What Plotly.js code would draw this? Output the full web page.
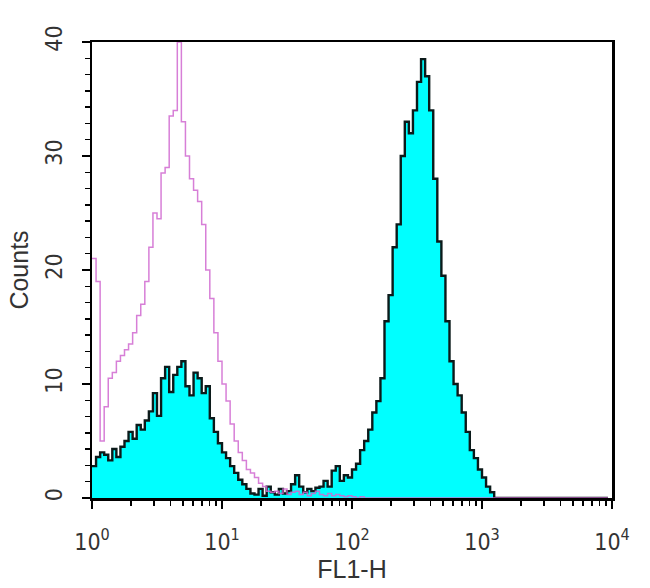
<!DOCTYPE html>
<html>
<head>
<meta charset="utf-8">
<script src="https://cdn.plot.ly/plotly-3.0.1.min.js"></script>
<style>html,body{margin:0;padding:0;background:#fff;}#chart{width:650px;height:588px;}</style>
</head>
<body>
<div id="chart"></div>
<script>
// 128 log-channels spanning 4 decades (10^0 .. 10^4) of FL1-H
const channelsPerDecade = 32;
const channelCount = 128;

// Isotype control histogram (magenta outline), counts per channel
const controlCounts = [
  21, 19, 5, 8, 10.5, 11, 12, 12.5, 13, 13.5,
  14.5, 16, 17, 19, 22, 25, 24.5, 28.5, 29, 33.5,
  34, 40, 33, 30, 28, 27, 26, 24, 20, 17.5,
  14.5, 12, 10, 8.5, 6.5, 5, 4, 3.3, 2.5, 2.2,
  1.8, 1.3, 1.0, 0.6, 0.5, 0.6, 0.4, 0.8, 0.3, 0.5,
  0.6, 0.3, 0.5, 0.2, 0.4, 0.6, 0.3, 0.2, 0.4, 0.2,
  0.3, 0.2, 0.1, 0.2, 0.1, 0, 0.1, 0, 0, 0,
  0, 0, 0, 0, 0, 0, 0, 0, 0, 0,
  0, 0, 0, 0, 0, 0, 0, 0, 0, 0,
  0, 0, 0, 0, 0, 0, 0, 0, 0, 0,
  0, 0, 0, 0, 0, 0, 0, 0, 0, 0,
  0, 0, 0, 0, 0, 0, 0, 0, 0, 0,
  0, 0, 0, 0, 0, 0, 0, 0
];

// Stained sample histogram (cyan filled, black outline), counts per channel
const sampleCounts = [
  2.8, 3.6, 4.0, 3.8, 3.3, 4.3, 3.6, 4.5, 5.0, 5.8,
  5.2, 6.4, 6.0, 6.8, 7.6, 9.2, 7.2, 10.5, 11.5, 9.3,
  10.8, 11.5, 12.0, 9.8, 9.0, 11.0, 10.5, 9.2, 9.8, 7.0,
  5.8, 4.8, 4.0, 3.5, 2.8, 2.2, 1.6, 1.2, 0.8, 0.4,
  0.3, 0.8, 0.2, 1.0, 0.5, 0.3, 0.8, 0.4, 0.6, 1.2,
  2.0, 1.0, 0.5, 0.8, 0.6, 0.9, 1.0, 1.5, 1.0, 2.4,
  2.8, 1.5, 2.0, 1.8, 2.5, 3.0, 4.2, 5.0, 6.0, 7.5,
  8.5, 10.5, 15.5, 17.8, 22, 24, 30, 33, 32, 34,
  36.5, 38.5, 37, 34, 28, 22.5, 19.5, 15.5, 12, 10,
  9, 7.5, 5.8, 4.2, 3.5, 2.5, 1.8, 1.0, 0.5, 0,
  0, 0, 0, 0, 0, 0, 0, 0, 0, 0,
  0, 0, 0, 0, 0, 0, 0, 0, 0, 0,
  0, 0, 0, 0, 0, 0, 0, 0
];

const xTickVals = [1, 10, 100, 1000, 10000];
const xTickText = ['10<sup>0</sup>', '10<sup>1</sup>', '10<sup>2</sup>', '10<sup>3</sup>', '10<sup>4</sup>'];
const yTickVals = [0, 10, 20, 30, 40];
const yTickText = ['0', '10', '20', '30', '40'];
const minorMultipliers = [2, 3, 4, 5, 6, 7, 8, 9];

// channel left edges on the FL1-H scale
const channelEdges = [];
for (let i = 0; i < channelCount; i++) channelEdges.push(Math.pow(10, i / channelsPerDecade));

const xMinor = [];
[1, 10, 100, 1000].forEach(d => minorMultipliers.forEach(m => xMinor.push(d * m)));

const tickFont = {family: 'Liberation Sans Narrow, DejaVu Sans Condensed, Liberation Sans, Arial, sans-serif', size: 23, color: '#333333'};
const titleFont = {family: 'Liberation Sans, Arial, sans-serif', size: 25, color: '#333333'};

const traces = [
  {
    x: channelEdges, y: sampleCounts, type: 'scatter', mode: 'lines',
    line: {shape: 'hv', color: '#0b1a1a', width: 2.4},
    fill: 'tozeroy', fillcolor: '#00ffff', hoverinfo: 'x+y', name: 'Sample'
  },
  {
    x: channelEdges, y: controlCounts, type: 'scatter', mode: 'lines',
    line: {shape: 'hv', color: 'rgba(208,104,208,0.85)', width: 1.5},
    hoverinfo: 'x+y', name: 'Control'
  }
];

const layout = {
  width: 650, height: 588,
  margin: {l: 92, r: 38, t: 42, b: 90},
  paper_bgcolor: '#ffffff', plot_bgcolor: '#ffffff',
  showlegend: false,
  xaxis: {
    type: 'log', range: [0, 4],
    tickmode: 'array', tickvals: xTickVals, ticktext: xTickText,
    ticks: 'outside', ticklen: 8, tickwidth: 2, tickcolor: '#000',
    showline: true, linecolor: '#000', linewidth: 2.5, mirror: true,
    showgrid: false, zeroline: false,
    minor: {tickmode: 'array', tickvals: xMinor, ticks: 'outside', ticklen: 5, tickwidth: 1.5, tickcolor: '#000', showgrid: false},
    tickfont: tickFont,
    ticklabelstandoff: 14,
    title: {text: 'FL1-H', font: titleFont, standoff: 4}
  },
  yaxis: {
    range: [0, 40],
    tickmode: 'array', tickvals: yTickVals, ticktext: yTickText, tickangle: -90,
    ticks: 'outside', ticklen: 8, tickwidth: 2, tickcolor: '#000',
    showline: true, linecolor: '#000', linewidth: 2.5, mirror: true,
    showgrid: false, zeroline: false,
    minor: {dtick: 10 / 7, ticks: 'outside', ticklen: 5, tickwidth: 1.5, tickcolor: '#000', showgrid: false},
    tickfont: tickFont,
    ticklabelstandoff: 10,
    title: {text: 'Counts', font: titleFont, standoff: 6}
  }
};

Plotly.newPlot('chart', traces, layout, {displayModeBar: false, staticPlot: true});
</script>
</body>
</html>
